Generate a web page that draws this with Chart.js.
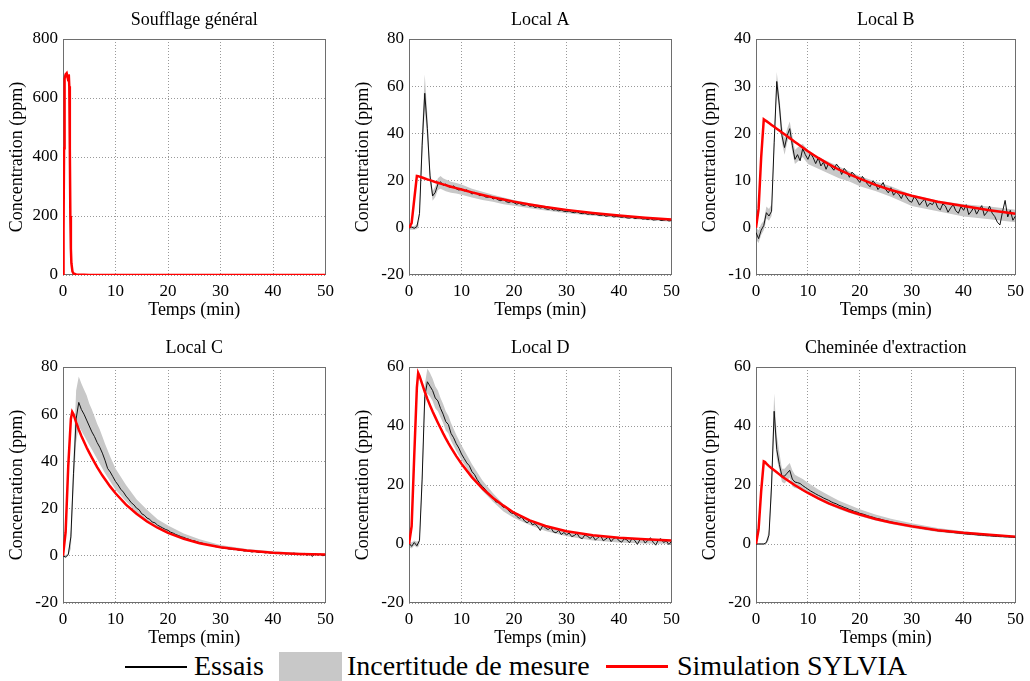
<!DOCTYPE html>
<html>
<head>
<meta charset="utf-8">
<title>Concentrations</title>
<script src="https://cdn.jsdelivr.net/npm/chart.js@4.4.0/dist/chart.umd.min.js"></script>
<style>
  body { margin:0; background:#fff; width:1030px; height:681px; overflow:hidden; position:relative;
         font-family:"Liberation Serif","Times New Roman",serif; }
  canvas { position:absolute; }
  .leg { position:absolute; font-size:28px; line-height:28px; color:#000; white-space:nowrap; }
  .legline { position:absolute; }
</style>
</head>
<body>
<canvas id="c1" width="340" height="322" style="left:0;top:0"></canvas>
<canvas id="c2" width="340" height="322" style="left:346px;top:0"></canvas>
<canvas id="c3" width="337" height="322" style="left:693px;top:0"></canvas>
<canvas id="c4" width="340" height="322" style="left:0;top:328px"></canvas>
<canvas id="c5" width="340" height="322" style="left:346px;top:328px"></canvas>
<canvas id="c6" width="337" height="322" style="left:693px;top:328px"></canvas>

<!-- legend -->
<div class="legline" style="left:125px;top:666px;width:62px;height:2px;background:#000"></div>
<div class="leg" style="left:194px;top:652px">Essais</div>
<div class="legline" style="left:279px;top:652px;width:63px;height:29px;background:#c8c8c8"></div>
<div class="leg" style="left:347px;top:652px">Incertitude de mesure</div>
<div class="legline" style="left:606px;top:665px;width:62px;height:3px;background:#ff0000"></div>
<div class="leg" style="left:677px;top:652px">Simulation SYLVIA</div>

<script>
/* ---------- data (ppm vs min) ---------- */

const titles = ['Soufflage général', 'Local A', 'Local B', 'Local C', 'Local D', "Cheminée d'extraction"];
const xTicks = [0, 10, 20, 30, 40, 50];

// time grid of the simulation curves and of the uncertainty band
const tSim = [0,0.5,1,1.5,1.75,2,2.5,3,3.5,4,4.5,5,5.5,6,6.5,7,7.5,8,9,10,12,14,16,18,20,23,26,30,35,40,45,50];
// time grid of the measured curves
const tExp = [0,0.5,1,1.5,2,2.5,3,3.5,4,4.5,5,5.5,6,6.5,7,7.5,8,8.5,9,9.5,
  10,10.5,11,11.5,12,12.5,13,13.5,14,14.5,15,15.5,16,16.5,17,17.5,18,18.5,19,19.5,
  20,20.5,21,21.5,22,22.5,23,23.5,24,24.5,25,25.5,26,26.5,27,27.5,28,28.5,29,29.5,
  30,30.5,31,31.5,32,32.5,33,33.5,34,34.5,35,35.5,36,36.5,37,37.5,38,38.5,39,39.5,
  40,40.5,41,41.5,42,42.5,43,43.5,44,44.5,45,45.5,46,46.5,47,47.5,48,48.5,49,49.5,50];

// Soufflage général : simulation only
const tSouff = [0,0.1,0.2,0.3,0.5,0.7,0.9,1.0,1.1,1.2,1.3,1.4,1.5,1.6,1.8,2.0,2.5,3,4,5,50];
const simSouff = [0,150,430,665,680,684,668,672,680,640,430,200,90,40,12,5,2,1,0.5,0,0];

// Local A
const simA = [0,2,12,22,21.9,21.7,21.3,20.9,20.5,20.2,19.8,19.4,19.1,18.7,18.4,18.1,17.7,17.4,16.8,16.2,15.0,13.9,12.9,12.0,11.1,9.9,8.8,7.6,6.3,5.2,4.3,3.5];
const upA = [0.8,0.8,0.8,1.5,3,9,42,65,48,25,15.5,17.5,21,22,21,20.5,20,19.5,19,18.3,16.5,15.3,14,12.8,11.8,10.4,9.2,7.8,6.5,5.4,4.5,3.8];
const loA = [-0.8,-0.8,-0.8,-0.5,0,4,30,50,37,19,11.5,13,16,16.5,16,15.5,15.2,14.8,14.5,14,12.8,11.8,11,10,9.3,8.3,7.3,6.2,5.1,4.1,3.3,2.6];
const expA = [0,0.3,-0.2,0.5,6,35,57,42,22,13.5,
  15,18.5,19.5,18,18.5,17.5,17,17.8,16.5,16,
  16.5,15.6,16.1,15.2,14.3,15,14.4,13.6,14,13.1,
  12.9,13.4,12.2,12.6,11.8,11.5,12.1,11.1,10.7,11.2,
  10.6,10,10.4,9.7,9.5,10,9.1,9.3,8.6,8.9,
  8.4,8.7,8.1,7.8,8.2,7.5,7.7,7.2,7.5,7,
  6.9,7.1,6.6,6.4,6.8,6.2,6,6.3,5.7,5.9,
  5.6,5.9,5.4,5.2,5.5,4.9,5.1,5.2,4.6,4.8,
  4.7,4.4,4.7,4.2,4.1,4.5,3.9,4.1,4.2,3.7,
  3.8,3.5,3.9,3.3,3.4,3.6,3.1,3.2,3.5,2.9,
  3.1];

// Local B
const simB = [0,4,15,23,22.8,22.6,22.2,21.8,21.4,21,20.6,20.2,19.8,19.4,19,18.6,18.2,17.8,17,16.2,14.8,13.5,12.3,11.3,10.4,9.1,8.0,6.8,5.5,4.6,3.7,3.0];
const upB = [0,-0.5,0.8,1.5,3,4.5,4,5,20,33,28,21.5,19,21,22.5,19.5,16.5,17,17.8,16.5,15,14,13,12,11,9.8,8.8,7,5.8,5,4.5,3.8];
const loB = [-2.5,-3.2,-1.5,-0.5,0.5,2,1.5,2.5,16,29,24,18,15.5,18,19.5,16,13.5,14,15,13.5,12.5,11.5,10.5,9.8,8.8,7.8,6.6,4.6,3.5,2.4,1.8,1.2];
const expB = [-1,-2.3,-0.5,0.5,3.2,2.5,3.5,18,31,26,
  19.5,17,19.5,21,17.5,14.5,15.5,14.2,16.8,15.5,
  14.5,15.8,14.9,13.6,14.8,13.1,13.9,12.4,13.7,12.9,
  12.2,13.5,12.8,11.3,12.6,11.9,10.7,11.8,11.2,10.3,
  9.6,10.9,10.1,9.2,8.7,9.9,9.4,8.1,8.8,9.6,
  8.1,7.4,8.5,6.9,7.6,7.1,6.2,7.4,6.5,5.7,
  5.4,6.6,5.9,4.8,5.5,6.1,4.5,5.2,4.9,5.8,
  4.3,3.8,5.1,4.6,3.3,4.2,4.9,3.6,3.1,4.5,
  3.7,4.9,2.8,3.5,4.4,2.9,3.9,4.7,2.6,3.3,
  4.6,3.1,2.4,1.2,0.6,3.4,5.8,2.3,3.7,1.6,
  2.5];

// Local C
const simC = [0,10,38,58,61,60,56.5,53.5,50.8,48.3,45.9,43.7,41.6,39.6,37.6,35.8,34,32.4,29.3,26.5,21.7,17.8,14.5,11.9,9.7,7.2,5.3,3.6,2.2,1.3,0.8,0.5];
const upC = [0.5,0.3,1,11,26,42,70,76,73,70.5,68,64.5,62,59,56,53.5,50.5,47.5,42,37,30,24,19.5,15.5,12.8,9.5,7,4.6,2.9,1.9,1.3,0.9];
const loC = [-0.5,-1,0,3,15,28,48,55,53,51,49,47,45,43,41,39,37,35,31.5,28,23,18.5,15,12.2,9.8,7.2,5.2,3.2,1.9,1,0.5,0.2];
const expC = [0,-0.5,0.5,8,35,58,65,62,60,57.5,
  55,52.5,50.5,48,46,43.5,40.5,37,35.5,33.5,
  31.5,30,28.2,27,25.3,24,22.5,21.6,20.2,19.5,
  17.8,17.2,16,15.5,14.3,14,13,12.4,11.8,11.2,
  10.8,10,9.6,9,8.6,8.1,7.8,7.3,7,6.5,
  6.4,5.9,5.6,5.4,4.9,4.8,4.4,4.3,3.9,3.8,
  3.5,3.2,3.3,2.9,2.8,2.6,2.7,2.3,2.4,2,
  2.1,1.9,1.6,1.9,1.5,1.4,1.7,1.2,1.4,1.1,
  1.3,0.9,1.2,0.8,1.1,0.7,1,0.6,1.2,0.5,
  0.9,0.4,1,0.2,0.8,-0.3,0.9,0.3,0.7,0,
  0.4];

// Local D
const simD = [0,6,30,53,58,57,54.3,51.6,49.2,47,44.9,43,41.1,39.3,37.5,35.8,34.2,32.7,29.8,27.2,22.6,18.8,15.6,13,10.6,8,6.1,4.3,3,2.1,1.6,1.2];
const upD = [1,0.5,1.2,0.8,1,2,25,54,59.5,58,56,53.5,52,49.5,47.5,45,43.5,41,37,33.5,27,21.5,17.2,13.5,10.8,8,6,4,2.7,1.9,1.4,1.1];
const loD = [-1,-1.5,-0.5,-1.2,-1,0,18,46,51,50,48.5,46,45,43,41,38.5,37.5,35,31.5,28.5,23,18,14.3,11,8.8,6.4,4.4,2.6,1.2,0.5,0.2,0];
const expD = [0.3,-0.8,0.5,-0.6,1.2,22,50,55,53.5,52,
  49.5,48.5,46,44,41.5,40.5,37.5,36,34,32.5,
  30.5,29,27.5,26.5,24.5,23.5,21.8,20.5,19.5,18.6,
  17.2,16.5,15.9,14.3,14.1,13.2,12.4,12.6,11.2,10.5,
  10.3,9.4,8.7,9.1,7.8,7.2,7.9,6.5,6.9,5.9,
  4.6,6.3,5.4,4.9,5.6,4.1,3.8,4.6,3.2,3.9,
  3.1,3.7,2.5,2.9,3.6,2.2,1.8,3.1,2.6,1.9,
  2.7,1.3,2.2,2.8,1.1,1.7,2.4,0.8,1.9,2.2,
  1.1,0.6,1.8,1.4,0.4,2,1.2,-0.1,1.5,1.7,
  0.3,1.3,2.1,0.6,-0.4,1.4,1.8,0.5,1.1,-0.2,
  0.9];

// Cheminée d'extraction
const simE = [0,5,18,28,27.8,27.2,26.4,25.7,25,24.3,23.6,22.9,22.3,21.7,21.1,20.5,19.9,19.4,18.3,17.3,15.5,13.8,12.4,11.1,10,8.5,7.3,6,4.7,3.8,3.1,2.5];
const upE = [0.3,0.3,0.3,0.3,0.3,1,5,24,51,37,31,25.5,25.5,26.5,27.5,25,23.5,23,22,20.8,18.5,16.5,14.7,13.2,11.8,10,8.6,7,5.4,4.3,3.4,2.8];
const loE = [-0.3,-0.3,-0.3,-0.3,-0.3,0,1.5,16,40,29,25,21,20.5,21.5,22.5,19.5,19,18.8,18,17,15,13.3,11.8,10.5,9.4,8,6.8,5.4,4.1,3.2,2.5,2];
const expE = [0,0,0,0,0.5,3,20,45,32,27,
  23,23,24,25,22,21,20.8,20.5,19.8,19.2,
  18.6,18,17.5,17,16.5,16.1,15.6,15.2,14.8,14.3,
  13.9,13.6,13.1,12.8,12.4,12.1,11.7,11.4,11,10.8,
  10.4,10.2,9.9,9.6,9.3,9.1,8.8,8.6,8.4,8.1,
  7.9,7.7,7.5,7.3,7.1,6.9,6.7,6.5,6.3,6.2,
  6,5.8,5.7,5.5,5.4,5.2,5.1,4.9,4.8,4.7,
  4.5,4.4,4.3,4.2,4.1,4,3.9,3.8,3.7,3.6,
  3.5,3.4,3.3,3.3,3.2,3.1,3,3,2.9,2.8,
  2.8,2.7,2.6,2.6,2.5,2.5,2.4,2.4,2.3,2.3,
  2.2];

// y axis limits per panel: [min, max, step]
const yLimits = [[0,800,200],[-20,80,20],[-10,40,10],[-20,80,20],[-20,60,20],[-20,60,20]];

/* ---------- drawing ---------- */

Chart.defaults.font.family = '"Liberation Serif", "Times New Roman", serif';
Chart.defaults.color = '#000';

const SERIF = '"Liberation Serif", "Times New Roman", serif';

function pts(xs, ys){ return xs.map((x, i) => ({x, y: ys[i]})); }

// MATLAB-like box around the axes
const framePlugin = {
  id: 'frame',
  beforeDatasetsDraw(chart){
    const {ctx, chartArea:a} = chart;
    ctx.save();
    ctx.strokeStyle = '#6e6e6e';
    ctx.lineWidth = 1;
    ctx.strokeRect(Math.round(a.left)+0.5, Math.round(a.top)+0.5, Math.round(a.right-a.left)-1, Math.round(a.bottom-a.top)-1);
    ctx.restore();
  }
};

function makePanel(canvasId, idx, sim, tS, exp, up, lo){
  const [yMin, yMax, yStep] = yLimits[idx];
  const canvas = document.getElementById(canvasId);
  const padRight = canvas.width - 63 - 263;
  const datasets = [];
  if(up){
    datasets.push({ label:'lo', data: pts(tSim, lo), borderWidth:0, pointRadius:0, fill:false, order:4 });
    datasets.push({ label:'Incertitude de mesure', data: pts(tSim, up), borderWidth:0, pointRadius:0,
                    backgroundColor:'#c8c8c8', fill:'-1', order:3 });
  }
  if(exp){
    datasets.push({ label:'Essais', data: pts(tExp, exp), borderColor:'#111', borderWidth:1,
                    pointRadius:0, fill:false, order:2 });
  }
  datasets.push({ label:'Simulation SYLVIA', data: pts(tS, sim), borderColor:'#ff0000', borderWidth:2.5,
                  pointRadius:0, fill:false, order:1 });

  return new Chart(canvas, {
    type: 'line',
    data: { datasets },
    options: {
      responsive:false, animation:false, events:[],
      layout:{ padding:{ left:0, right:padRight, top:0, bottom:0 } },
      plugins:{
        legend:{ display:false }, tooltip:{ enabled:false },
        filler:{ drawTime:'beforeDatasetsDraw' },
        title:{ display:true, text: titles[idx], fullSize:false, color:'#000',
                font:{ family:SERIF, size:18, weight:'normal' }, padding:{ top:9, bottom:8.4 } }
      },
      scales:{
        x:{ type:'linear', min:0, max:50,
            afterBuildTicks(s){ s.ticks = xTicks.map(v => ({value:v})); },
            afterFit(s){ s.height = 47; },
            grid:{ color:'#999', lineWidth:1, drawTicks:false },
            border:{ display:false, dash:[1,2] },
            ticks:{ font:{ family:SERIF, size:17 }, color:'#000', padding:6, maxRotation:0 },
            title:{ display:true, text:'Temps (min)', color:'#000', font:{ family:SERIF, size:18 },
                    padding:{ top:0, bottom:1 } } },
        y:{ type:'linear', min:yMin, max:yMax,
            ticks:{ stepSize:yStep, font:{ family:SERIF, size:17 }, color:'#000', padding:5 },
            afterFit(s){ s.width = 63; },
            grid:{ color:'#999', lineWidth:1, drawTicks:false },
            border:{ display:false, dash:[1,2] },
            title:{ display:true, text:'Concentration (ppm)', color:'#000', font:{ family:SERIF, size:18 },
                    padding:{ top:6, bottom:0 } } }
      }
    },
    plugins:[framePlugin]
  });
}

makePanel('c1', 0, simSouff, tSouff, null, null, null);
makePanel('c2', 1, simA, tSim, expA, upA, loA);
makePanel('c3', 2, simB, tSim, expB, upB, loB);
makePanel('c4', 3, simC, tSim, expC, upC, loC);
makePanel('c5', 4, simD, tSim, expD, upD, loD);
makePanel('c6', 5, simE, tSim, expE, upE, loE);
</script>
</body>
</html>
